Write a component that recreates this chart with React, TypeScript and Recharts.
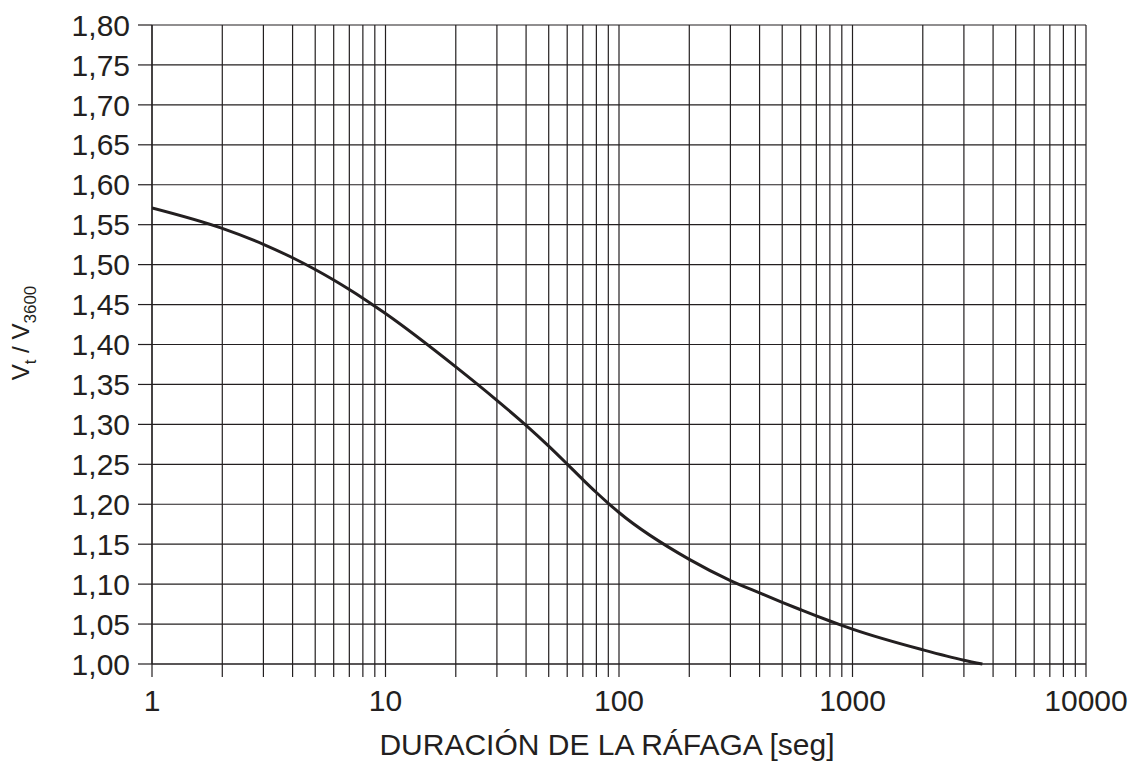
import { LineChart, Line, XAxis, YAxis, CartesianGrid, Label } from 'recharts';

// gust duration [s] vs. Vt / V3600
const durations = [1, 2, 3, 4, 5, 6, 7, 8, 9, 10, 20, 30, 40, 50, 60, 70, 80, 90, 100, 200, 300, 400, 500, 600, 700, 800, 900, 1000, 2000, 3000, 3600];
const ratios = [1.571, 1.5454, 1.5255, 1.5086, 1.4939, 1.4807, 1.4688, 1.458, 1.448, 1.4388, 1.372, 1.3301, 1.2988, 1.2728, 1.2503, 1.2309, 1.2147, 1.2012, 1.1897, 1.131, 1.1045, 1.089, 1.0772, 1.0679, 1.0602, 1.0538, 1.0484, 1.0437, 1.0178, 1.0048, 1.0];

// log grid: 1..9 in every decade, labels only on powers of ten
const xTicks = [1, 2, 3, 4, 5, 6, 7, 8, 9, 10, 20, 30, 40, 50, 60, 70, 80, 90, 100, 200, 300, 400, 500, 600, 700, 800, 900, 1000, 2000, 3000, 4000, 5000, 6000, 7000, 8000, 9000, 10000];
const xLabels = [1, 10, 100, 1000, 10000];
const yTicks = [1.0, 1.05, 1.1, 1.15, 1.2, 1.25, 1.3, 1.35, 1.4, 1.45, 1.5, 1.55, 1.6, 1.65, 1.7, 1.75, 1.8];

const INK = '#231f20';
const FONT = '"Liberation Sans", Arial, Helvetica, sans-serif';

const data = durations.map((t, i) => ({ t, r: ratios[i] }));

function YTitle() {
  const cx = 29;
  const cy = 333;
  return (
    <text
      x={cx}
      y={cy}
      transform={`rotate(-90, ${cx}, ${cy})`}
      textAnchor="middle"
      fill={INK}
      fontFamily={FONT}
      fontSize={24}
    >
      V
      <tspan fontSize={17} dy={7}>t</tspan>
      <tspan dy={-7}> / V</tspan>
      <tspan fontSize={17} dy={7}>3600</tspan>
    </text>
  );
}

export default function App() {
  return (
    <div style={{ position: 'absolute', left: 0, top: 0, width: 1145, height: 764, background: '#fff' }}>
      <LineChart width={1145} height={764} data={data} margin={{ top: 25, right: 59, bottom: 0, left: 0 }}>
        <CartesianGrid stroke={INK} strokeWidth={1.2} />
        <XAxis
          dataKey="t"
          type="number"
          scale="log"
          domain={[1, 10000]}
          ticks={xTicks}
          interval={0}
          allowDataOverflow
          height={100}
          stroke={INK}
          strokeWidth={1.2}
          tickSize={13}
          tickMargin={13}
          tick={{ fill: INK, fontSize: 30, fontFamily: FONT }}
          tickFormatter={(v: number) => (xLabels.includes(v) ? String(v) : '')}
        >
          <Label
            value="DURACIÓN DE LA RÁFAGA [seg]"
            position="insideBottom"
            offset={9}
            dx={-12}
            fill={INK}
            fontSize={30}
            fontFamily={FONT}
          />
        </XAxis>
        <YAxis
          type="number"
          domain={[1, 1.8]}
          ticks={yTicks}
          interval={0}
          width={152}
          stroke={INK}
          strokeWidth={1.2}
          tickSize={14}
          tickMargin={8}
          tick={{ fill: INK, fontSize: 30, fontFamily: FONT }}
          tickFormatter={(v: number) => v.toFixed(2).replace('.', ',')}
        >
          <Label content={<YTitle />} />
        </YAxis>
        <Line
          type="monotone"
          dataKey="r"
          stroke={INK}
          strokeWidth={3}
          dot={false}
          activeDot={false}
          isAnimationActive={false}
        />
      </LineChart>
    </div>
  );
}
